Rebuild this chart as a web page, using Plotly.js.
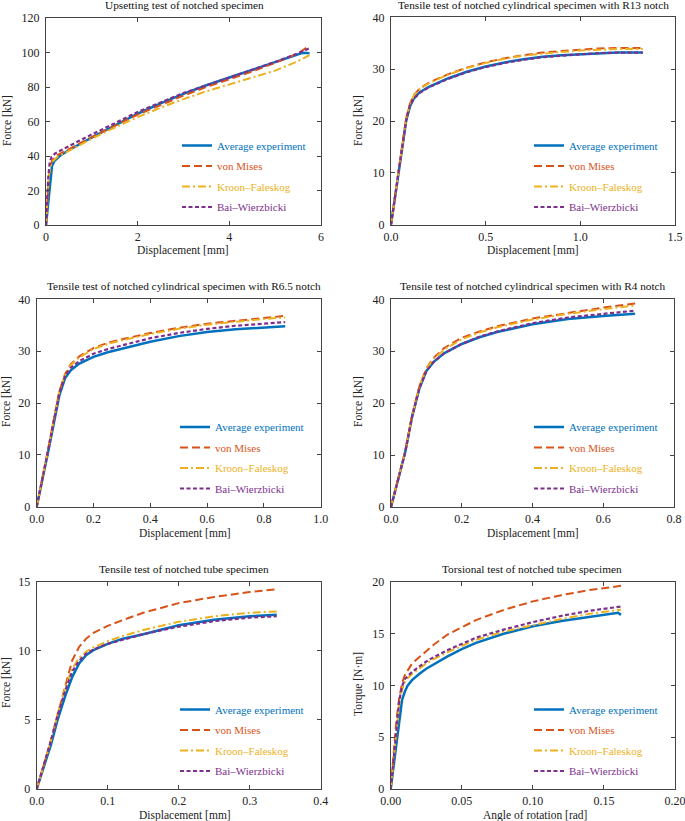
<!DOCTYPE html>
<html>
<head>
<meta charset="utf-8">
<script src="https://cdn.plot.ly/plotly-3.0.1.min.js"></script>
<style>html,body{margin:0;padding:0;background:#fff;}#chart{width:685px;height:821px;}</style>
</head>
<body>
<div id="chart"></div>
<script>
// ---------- data ----------
const seriesNames = ["Average experiment", "von Mises", "Kroon\u2013Faleskog", "Bai\u2013Wierzbicki"];
const seriesColors = ["#0072BD", "#D95319", "#EDB120", "#7E2F8E"];

const panelTitles = [
  "Upsetting test of notched specimen",
  "Tensile test of notched cylindrical specimen with R13 notch",
  "Tensile test of notched cylindrical specimen with R6.5 notch",
  "Tensile test of notched cylindrical specimen with R4 notch",
  "Tensile test of notched tube specimen",
  "Torsional test of notched tube specimen"
];
const xTitles = ["Displacement [mm]", "Displacement [mm]", "Displacement [mm]", "Displacement [mm]", "Displacement [mm]", "Angle of rotation [rad]"];
const yTitles = ["Force [kN]", "Force [kN]", "Force [kN]", "Force [kN]", "Force [kN]", "Torque [N\u00b7m]"];
const xRanges = [[0, 6], [0, 1.5], [0, 1], [0, 0.8], [0, 0.4], [0, 0.2]];
const yRanges = [[0, 120], [0, 40], [0, 40], [0, 40], [0, 15], [0, 20]];
const xTickSteps = [2, 0.5, 0.2, 0.2, 0.1, 0.05];
const yTickSteps = [20, 10, 10, 10, 5, 5];
const xTickFormats = ["d", ".1f", ".1f", ".1f", ".1f", ".2f"];

// Panel 1: upsetting
const p1ExpX = [0, 0.03, 0.07, 0.1, 0.13, 0.18, 0.3, 0.5, 0.8, 1.2, 1.6, 2.0, 2.5, 3.0, 3.5, 4.0, 4.5, 5.0, 5.4, 5.6, 5.75];
const p1ExpY = [0, 8, 22, 30, 34, 37, 40, 43.5, 48, 53.5, 59, 64.5, 70.5, 76, 81, 85.5, 90, 94.5, 98, 99.8, 99.5];
const p1VmX = [0, 0.02, 0.06, 0.1, 0.15, 0.25, 0.5, 1, 1.5, 2, 2.5, 3, 3.5, 4, 4.5, 5, 5.5, 5.75];
const p1VmY = [0, 10, 28, 35, 38, 40.5, 44, 51, 57.5, 64, 69.5, 75, 80, 84.5, 89, 94, 99.5, 104];
const p1KfX = [0, 0.02, 0.06, 0.1, 0.15, 0.25, 0.5, 1, 1.5, 2, 2.5, 3, 3.5, 4, 4.5, 5, 5.5, 5.75];
const p1KfY = [0, 10, 28, 34, 37, 39.5, 43, 50, 56.5, 62.5, 68, 73, 77.5, 81.5, 85.5, 89.5, 95, 98.5];
const p1BwX = [0, 0.02, 0.05, 0.08, 0.12, 0.2, 0.4, 0.7, 1, 1.5, 2, 2.5, 3, 3.5, 4, 4.5, 5, 5.5, 5.75];
const p1BwY = [0, 12, 28, 36, 39.5, 41.5, 44.5, 48.5, 52.5, 59, 65.5, 71, 76.5, 81, 85.5, 90, 94.5, 99.5, 102.5];

// Panel 2: R13
const p2X = [0, 0.03, 0.06, 0.08, 0.1, 0.12, 0.15, 0.2, 0.3, 0.4, 0.5, 0.6, 0.7, 0.8, 0.9, 1.0, 1.1, 1.2, 1.33];
const p2ExpY = [0, 7.5, 15.5, 20, 22.8, 24.3, 25.5, 26.6, 28.2, 29.5, 30.5, 31.3, 31.9, 32.4, 32.7, 32.9, 33.1, 33.2, 33.2];
const p2VmY = [0, 7.8, 16, 20.5, 23.3, 25, 26.2, 27.4, 29, 30.3, 31.3, 32.1, 32.7, 33.2, 33.5, 33.8, 34, 34.1, 34.1];
const p2KfY = [0, 7.8, 16, 20.5, 23.3, 24.9, 26.1, 27.3, 28.9, 30.2, 31.2, 32.0, 32.6, 33.0, 33.3, 33.6, 33.8, 33.9, 33.9];
const p2BwY = [0, 7.6, 15.7, 20.2, 23.0, 24.3, 25.4, 26.5, 28.1, 29.4, 30.4, 31.2, 31.8, 32.3, 32.6, 32.9, 33.1, 33.2, 33.2];

// Panel 3: R6.5
const p3X = [0, 0.02, 0.04, 0.06, 0.08, 0.1, 0.12, 0.15, 0.2, 0.25, 0.3, 0.4, 0.5, 0.6, 0.7, 0.8, 0.875];
const p3ExpY = [0, 5, 10.5, 16, 21.5, 24.8, 26.3, 27.6, 28.9, 29.8, 30.5, 31.8, 32.9, 33.7, 34.2, 34.6, 34.8];
const p3VmY = [0, 5.3, 11, 16.8, 22.3, 25.6, 27.5, 29, 30.6, 31.6, 32.3, 33.5, 34.5, 35.3, 35.9, 36.4, 36.8];
const p3KfY = [0, 5.3, 11, 16.8, 22.3, 25.5, 27.3, 28.8, 30.4, 31.4, 32.1, 33.3, 34.3, 35.1, 35.7, 36.2, 36.5];
const p3BwY = [0, 5.2, 10.8, 16.5, 22, 25.2, 26.8, 28.1, 29.5, 30.4, 31.1, 32.5, 33.5, 34.3, 34.9, 35.3, 35.6];

// Panel 4: R4
const p4X = [0, 0.02, 0.04, 0.06, 0.08, 0.1, 0.12, 0.15, 0.2, 0.25, 0.3, 0.4, 0.5, 0.6, 0.69];
const p4ExpY = [0, 5.2, 10.5, 17.5, 22.8, 26.2, 27.9, 29.6, 31.4, 32.7, 33.7, 35.2, 36.2, 36.8, 37.2];
const p4VmY = [0, 5.3, 10.7, 17.8, 23.2, 26.7, 28.7, 30.6, 32.6, 33.8, 34.8, 36.3, 37.4, 38.4, 39.2];
const p4KfY = [0, 5.3, 10.7, 17.8, 23.2, 26.6, 28.5, 30.3, 32.3, 33.6, 34.6, 36.1, 37.2, 38.1, 38.8];
const p4BwY = [0, 5.2, 10.5, 17.5, 22.8, 26.2, 27.9, 29.6, 31.4, 32.8, 33.8, 35.4, 36.5, 37.2, 37.8];

// Panel 5: tube tensile
const p5X = [0, 0.01, 0.02, 0.03, 0.04, 0.05, 0.06, 0.07, 0.08, 0.1, 0.12, 0.15, 0.2, 0.25, 0.3, 0.338];
const p5ExpY = [0, 1.6, 3.2, 5.1, 6.7, 8.1, 9.1, 9.7, 10.05, 10.5, 10.85, 11.2, 11.85, 12.25, 12.5, 12.6];
const p5VmY = [0, 1.7, 3.5, 5.5, 7.4, 9.3, 10.3, 10.9, 11.3, 11.8, 12.2, 12.75, 13.45, 13.9, 14.25, 14.45];
const p5KfY = [0, 1.7, 3.5, 5.5, 7.3, 8.7, 9.5, 9.95, 10.25, 10.7, 11.05, 11.5, 12.1, 12.5, 12.75, 12.85];
const p5BwY = [0, 1.7, 3.5, 5.4, 7.1, 8.5, 9.3, 9.8, 10.1, 10.5, 10.8, 11.2, 11.75, 12.15, 12.4, 12.5];

// Panel 6: torsion
const p6ExpX = [0, 0.002, 0.004, 0.006, 0.008, 0.01, 0.012, 0.015, 0.02, 0.025, 0.03, 0.04, 0.05, 0.06, 0.08, 0.1, 0.12, 0.14, 0.155, 0.16, 0.162];
const p6ExpY = [0, 2.2, 4.3, 6.6, 8.6, 9.4, 10.0, 10.5, 11.1, 11.6, 12.0, 12.8, 13.5, 14.1, 15.0, 15.7, 16.2, 16.6, 16.9, 17.0, 16.8];
const p6X = [0, 0.002, 0.004, 0.006, 0.008, 0.01, 0.012, 0.015, 0.02, 0.025, 0.03, 0.04, 0.05, 0.06, 0.08, 0.1, 0.12, 0.14, 0.162];
const p6VmY = [0, 3.3, 6.6, 8.8, 10.2, 11.0, 11.5, 12.1, 12.7, 13.3, 13.9, 14.9, 15.6, 16.3, 17.3, 18.1, 18.7, 19.2, 19.6];
const p6KfY = [0, 2.9, 5.8, 8.2, 9.6, 10.3, 10.7, 11.1, 11.6, 12.1, 12.5, 13.2, 13.8, 14.4, 15.2, 15.8, 16.4, 16.9, 17.3];
const p6BwY = [0, 3.0, 6.0, 8.5, 9.9, 10.6, 10.9, 11.3, 11.8, 12.3, 12.7, 13.4, 14.0, 14.6, 15.4, 16.1, 16.7, 17.2, 17.6];

// ---------- build ----------
const panelSeries = [
  [[p1ExpX, p1ExpY], [p1VmX, p1VmY], [p1KfX, p1KfY], [p1BwX, p1BwY]],
  [[p2X, p2ExpY], [p2X, p2VmY], [p2X, p2KfY], [p2X, p2BwY]],
  [[p3X, p3ExpY], [p3X, p3VmY], [p3X, p3KfY], [p3X, p3BwY]],
  [[p4X, p4ExpY], [p4X, p4VmY], [p4X, p4KfY], [p4X, p4BwY]],
  [[p5X, p5ExpY], [p5X, p5VmY], [p5X, p5KfY], [p5X, p5BwY]],
  [[p6ExpX, p6ExpY], [p6X, p6VmY], [p6X, p6KfY], [p6X, p6BwY]]
];

const W = 685, H = 821;
const FONT = "Liberation Serif, DejaVu Serif, serif";
const px = v => v / W;
const py = v => 1 - v / H;

// plot areas in pixels [left, right, top, bottom]
const boxes = [
  [46, 321, 18, 225],
  [391, 675, 17.3, 224.7],
  [36.7, 320.7, 299.3, 506.7],
  [391, 674, 299.3, 507],
  [36.7, 320.7, 581.7, 789],
  [390.7, 675, 581.7, 789]
];
const titlePos = [[184, 5], [533, 5], [184, 286], [532.5, 286], [183.5, 568.5], [532, 568.5]];
const xTitlePos = [[183, 250], [533, 250], [185, 533.5], [533, 533.5], [185, 815], [535, 815]];
const yTitlePos = [[7, 121], [358, 121], [6, 402], [358, 402], [6, 683], [358, 684]];
const legendPos = [[177, 131], [529, 131], [175, 412.5], [529, 412.5], [175, 695], [529, 695]];

const dashes = ["solid", "8px,4px", "8px,3px,2px,3px", "4px,2.5px"];
const widths = [2.5, 2, 2, 2.2];

const traces = [];
const layout = {
  width: W, height: H,
  margin: {l: 0, r: 0, t: 0, b: 0},
  paper_bgcolor: "#fff", plot_bgcolor: "#fff",
  font: {family: FONT, size: 12, color: "#222"},
  annotations: [],
  showlegend: true
};

for (let p = 0; p < 6; p++) {
  const suf = p === 0 ? "" : String(p + 1);
  const legKey = "legend" + suf;
  for (let s = 0; s < 4; s++) {
    traces.push({
      type: "scatter", mode: "lines",
      x: panelSeries[p][s][0], y: panelSeries[p][s][1],
      xaxis: "x" + suf, yaxis: "y" + suf,
      name: '<span style="color:' + seriesColors[s] + '">' + seriesNames[s] + '</span>',
      legend: legKey,
      legendgroup: "g" + p + "_" + s,
      line: {color: seriesColors[s], width: widths[s], dash: dashes[s]},
      hoverinfo: "skip"
    });
  }
  const b = boxes[p];
  const axCommon = {
    showline: true, linecolor: "#444", linewidth: 1, mirror: "ticks",
    ticks: "inside", ticklen: 4, tickcolor: "#444", tickwidth: 1,
    showgrid: false, zeroline: false, ticklabeloverflow: "allow",
    tickfont: {family: FONT, size: 12, color: "#222"}
  };
  const xr = xRanges[p];
  layout["xaxis" + suf] = Object.assign({}, axCommon, {
    domain: [px(b[0]), px(b[1])], range: [xr[0], xr[1] * 1.000001], anchor: "y" + suf,
    dtick: xTickSteps[p], tick0: 0, tickformat: xTickFormats[p], ticklabelstandoff: 1
  });
  const yr = yRanges[p];
  layout["yaxis" + suf] = Object.assign({}, axCommon, {
    domain: [py(b[3]), py(b[2])], range: [yr[0], yr[1] * 1.000001], anchor: "x" + suf,
    dtick: yTickSteps[p], tick0: 0, ticklabelstandoff: 3
  });
  layout[legKey] = {
    x: px(legendPos[p][0]), y: py(legendPos[p][1]), xanchor: "left", yanchor: "top",
    xref: "paper", yref: "paper",
    bgcolor: "rgba(0,0,0,0)", borderwidth: 0,
    font: {family: FONT, size: 11},
    tracegroupgap: 1.5, itemclick: false, itemdoubleclick: false
  };
  layout.annotations.push({
    text: panelTitles[p], xref: "paper", yref: "paper",
    x: px(titlePos[p][0]), y: py(titlePos[p][1]), xanchor: "center", yanchor: "middle",
    showarrow: false, font: {family: FONT, size: 11.3, color: "#111"}
  });
  layout.annotations.push({
    text: xTitles[p], xref: "paper", yref: "paper",
    x: px(xTitlePos[p][0]), y: py(xTitlePos[p][1]), xanchor: "center", yanchor: "middle",
    showarrow: false, font: {family: FONT, size: 11.5, color: "#222"}
  });
  layout.annotations.push({
    text: yTitles[p], xref: "paper", yref: "paper", textangle: -90,
    x: px(yTitlePos[p][0]), y: py(yTitlePos[p][1]), xanchor: "center", yanchor: "middle",
    showarrow: false, font: {family: FONT, size: 11.5, color: "#222"}
  });
}

Plotly.newPlot("chart", traces, layout, {displayModeBar: false, staticPlot: true});
</script>
</body>
</html>
